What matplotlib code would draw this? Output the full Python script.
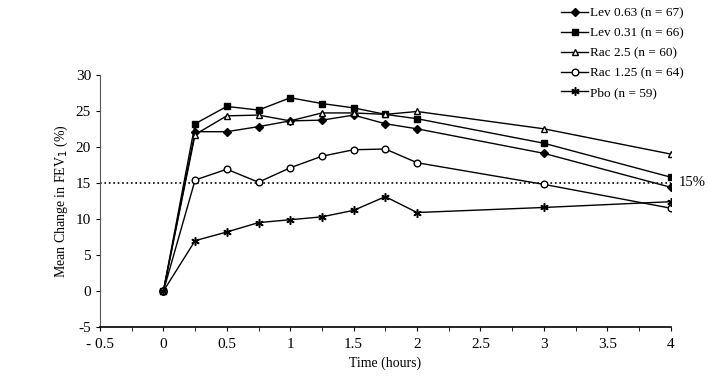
import matplotlib.pyplot as plt
import numpy as np

plt.rcParams['font.family'] = ['Liberation Serif', 'DejaVu Serif']
plt.rcParams['axes.unicode_minus'] = False

# time points (hours)
hours = [0, 0.25, 0.5, 0.75, 1.0, 1.25, 1.5, 1.75, 2.0, 3.0, 4.0]

lev063 = [0, 22.1, 22.1, 22.8, 23.6, 23.7, 24.4, 23.2, 22.5, 19.1, 14.4]
lev031 = [0, 23.2, 25.6, 25.1, 26.8, 26.0, 25.4, 24.5, 23.9, 20.5, 15.8]
rac25 = [0, 21.7, 24.3, 24.4, 23.6, 24.7, 24.7, 24.5, 24.9, 22.5, 19.0]
rac125 = [0, 15.4, 16.9, 15.1, 17.1, 18.7, 19.6, 19.7, 17.8, 14.8, 11.5]
pbo = [0, 7.0, 8.2, 9.5, 9.9, 10.3, 11.2, 13.1, 10.9, 11.6, 12.4]

labels = ['Lev 0.63 (n = 67)', 'Lev 0.31 (n = 66)', 'Rac 2.5 (n = 60)',
          'Rac 1.25 (n = 64)', 'Pbo (n = 59)']

xticks = [-0.5, 0, 0.5, 1, 1.5, 2, 2.5, 3, 3.5, 4]
xtick_labels = ['- 0.5', '0', '0.5', '1', '1.5', '2', '2.5', '3', '3.5', '4']
xminor = [-0.25, 0.25, 0.75, 1.25, 1.75, 2.25, 2.75, 3.25, 3.75]
yticks = [-5, 0, 5, 10, 15, 20, 25, 30]

fig = plt.figure(figsize=(7.09, 3.85), dpi=100)
ax = fig.add_axes([0.141, 0.150, 0.805, 0.656])

ax.axhline(15, color='black', linestyle=':', linewidth=1.2)

ax.plot(hours, lev063, color='black', lw=1, marker='D', ms=3.8, mfc='black', label=labels[0])
ax.plot(hours, lev031, color='black', lw=1, marker='s', ms=4.3, mfc='black', label=labels[1])
ax.plot(hours, rac25, color='black', lw=1, marker='^', ms=4.8, mfc='white', label=labels[2])
ax.plot(hours, rac125, color='black', lw=1, marker='o', ms=4.8, mfc='white', label=labels[3])
ax.plot(hours, pbo, color='black', lw=1, marker=(6, 2, 0), ms=6, mew=1.1, label=labels[4])

ax.set_xlim(-0.5, 4)
ax.set_ylim(-5, 30)
ax.set_xticks(xticks)
ax.set_xticklabels(xtick_labels, fontsize=11)
ax.set_xticks(xminor, minor=True)
ax.set_yticks(yticks)
ax.tick_params(axis='y', labelsize=11, length=3, direction='out')
ax.tick_params(axis='x', which='both', length=3, direction='out', pad=5)

ax.spines['top'].set_visible(False)
ax.spines['right'].set_visible(False)
ax.spines['left'].set_color('#555555')
ax.spines['bottom'].set_linewidth(1.2)

ax.set_xlabel('Time (hours)', fontsize=10)
ax.set_ylabel('Mean Change in FEV$_1$ (%)', fontsize=10)

ax.text(4.06, 15, '15%', fontsize=10.5, va='center', ha='left', clip_on=False)

handles, labs = ax.get_legend_handles_labels()
fig.legend(handles, labs, loc='upper left', bbox_to_anchor=(0.775, 1.012), frameon=False,
           fontsize=9.5, handlelength=2.0, handletextpad=0.2, labelspacing=0.58)

fig.savefig('out.png', dpi=100)
